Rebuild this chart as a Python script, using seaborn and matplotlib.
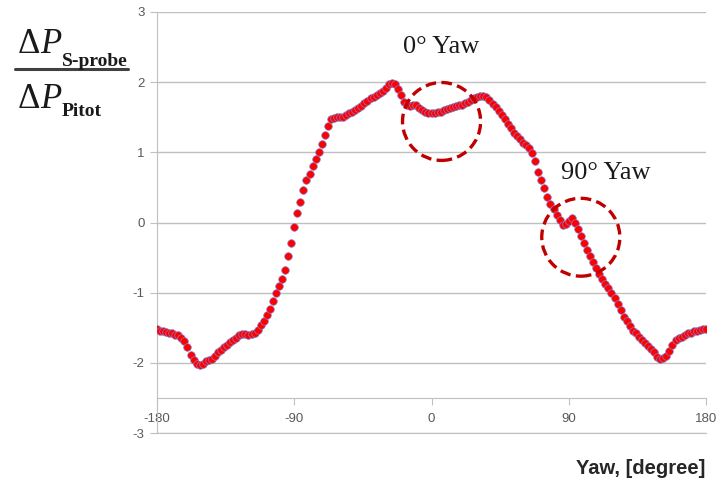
import pandas as pd
import seaborn as sns
import matplotlib.pyplot as plt
from matplotlib.patches import Ellipse

# yaw angle sweep, one reading every 2 degrees
yaw = list(range(-180, 182, 2))

# pressure ratio dP(S-probe) / dP(Pitot)
ratio = [
    -1.52, -1.54, -1.55, -1.56, -1.57, -1.58, -1.60, -1.61, -1.64, -1.69,
    -1.78, -1.89, -1.96, -2.01, -2.03, -2.01, -1.98, -1.96, -1.94, -1.90,
    -1.85, -1.82, -1.78, -1.74, -1.71, -1.67, -1.64, -1.61, -1.59, -1.59,
    -1.60, -1.59, -1.58, -1.53, -1.46, -1.40, -1.32, -1.23, -1.12, -1.01,
    -0.91, -0.81, -0.68, -0.48, -0.29, -0.07, 0.13, 0.29, 0.47, 0.60,
    0.69, 0.81, 0.91, 1.01, 1.12, 1.25, 1.38, 1.47, 1.49, 1.50,
    1.50, 1.51, 1.53, 1.56, 1.58, 1.60, 1.63, 1.66, 1.70, 1.73,
    1.77, 1.79, 1.82, 1.85, 1.88, 1.92, 1.97, 1.99, 1.97, 1.90,
    1.81, 1.72, 1.67, 1.66, 1.68, 1.67, 1.63, 1.60, 1.57, 1.56,
    1.56, 1.56, 1.57, 1.58, 1.60, 1.62, 1.63, 1.64, 1.66, 1.67,
    1.68, 1.70, 1.72, 1.74, 1.77, 1.79, 1.80, 1.80, 1.79, 1.75,
    1.69, 1.64, 1.59, 1.53, 1.47, 1.40, 1.34, 1.28, 1.23, 1.19,
    1.14, 1.10, 1.06, 0.99, 0.87, 0.72, 0.60, 0.49, 0.37, 0.27,
    0.19, 0.11, 0.04, -0.03, -0.02, 0.02, 0.06, 0.00, -0.09, -0.19,
    -0.29, -0.39, -0.48, -0.57, -0.65, -0.73, -0.80, -0.88, -0.94, -1.00,
    -1.07, -1.16, -1.25, -1.34, -1.41, -1.47, -1.54, -1.58, -1.63, -1.67,
    -1.72, -1.76, -1.80, -1.85, -1.91, -1.95, -1.93, -1.90, -1.83, -1.74,
    -1.68, -1.65, -1.63, -1.61, -1.58, -1.57, -1.55, -1.54, -1.53, -1.52,
    -1.52,
]

xticks = [-180, -90, 0, 90, 180]
yticks = [-3, -2, -1, 0, 1, 2, 3]

# highlighted regions: (yaw, ratio, label)
highlights = [(6.6, 1.44, "0° Yaw"), (97.9, -0.21, "90° Yaw")]

df = pd.DataFrame({"yaw": yaw, "ratio": ratio})

sns.set_style("white")
plt.rcParams["font.family"] = ["Liberation Sans", "DejaVu Sans"]
plt.rcParams["axes.unicode_minus"] = False

fig = plt.figure(figsize=(7.2, 4.87), dpi=100)
ax = fig.add_axes([157 / 720, 1 - 433 / 487, 549 / 720, 421 / 487])

grid_c = "#c0c0c0"
tick_c = "#595959"

ax.set_xlim(-180, 180)
ax.set_ylim(-3, 3)
ax.set_yticks(yticks)
ax.yaxis.grid(True, color=grid_c, lw=1)
ax.xaxis.grid(False)
for s in ["top", "right"]:
    ax.spines[s].set_visible(False)
ax.spines["left"].set_color(grid_c)
ax.spines["bottom"].set_color(grid_c)
ax.tick_params(axis="y", direction="out", length=5, color=grid_c,
               labelsize=9.5, labelcolor=tick_c, pad=4, left=True)
ax.set_xticks([])

# horizontal category axis crosses at -2.5
sec = ax.secondary_xaxis(0.5 / 6)
sec.set_xticks(xticks)
sec.spines["bottom"].set_color(grid_c)
sec.tick_params(direction="out", length=5, color=grid_c,
                labelsize=9.5, labelcolor=tick_c, pad=6)

sns.scatterplot(data=df, x="yaw", y="ratio", ax=ax, color="#ff0000",
                edgecolor="#8080d0", linewidth=0.5, s=30, zorder=3,
                legend=False)
ax.set_xlabel("")
ax.set_ylabel("")

for cx, cy, label in highlights:
    ax.add_patch(Ellipse((cx, cy), 51.2, 1.11, fill=False, ec="#c00000",
                         lw=2.4, ls=(0, (3.2, 1.6)), zorder=4))

ax.text(6.0, 2.5, highlights[0][2], ha="center", va="center",
        family="Liberation Serif", fontsize=19, color="#1a1a1a")
ax.text(114, 0.7, highlights[1][2], ha="center", va="center",
        family="Liberation Serif", fontsize=19, color="#1a1a1a")

# y label drawn as a stacked fraction
serif = "Liberation Serif"
fig.text(18 / 720, 1 - 53 / 487, "Δ", family=serif, fontsize=25, color="#1a1a1a")
fig.text(40 / 720, 1 - 53 / 487, "P", family=serif, style="italic",
         fontsize=25, color="#1a1a1a")
fig.text(62 / 720, 1 - 66 / 487, "S-probe", family=serif, weight="bold",
         fontsize=14, color="#1a1a1a")
fig.text(18 / 720, 1 - 108 / 487, "Δ", family=serif, fontsize=25, color="#1a1a1a")
fig.text(40 / 720, 1 - 108 / 487, "P", family=serif, style="italic",
         fontsize=25, color="#1a1a1a")
fig.text(62 / 720, 1 - 116 / 487, "Pitot", family=serif, weight="bold",
         fontsize=14, color="#1a1a1a")
fig.add_artist(plt.Line2D([15 / 720, 128 / 720], [1 - 69 / 487, 1 - 69 / 487],
                          transform=fig.transFigure, color="#404040", lw=2.2))

fig.text(705 / 720, 1 - 468 / 487, "Yaw, [degree]", ha="right", va="center",
         fontsize=14.5, weight="bold", color="#262626")

fig.savefig("out.png", dpi=100)
